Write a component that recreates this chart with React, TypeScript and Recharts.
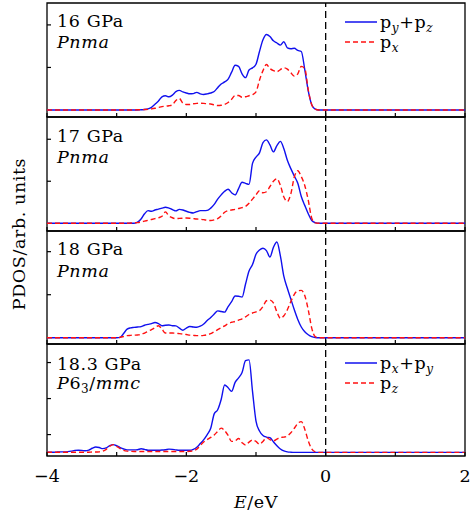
import React from "react";
import { LineChart, Line, XAxis, YAxis, ReferenceLine, ReferenceArea, Legend } from "recharts";

const FONT = '"DejaVu Serif", serif';
const FS = 17.5;
const LS = 0.6;
const BLUE = "#1010ee";
const RED = "#ff1010";

// energy grid (eV) for the three Pnma panels
const E_PNMA = [
  -4,
  -3.0, -2.95, -2.9, -2.85, -2.8, -2.75, -2.7, -2.65, -2.6, -2.55,
  -2.5, -2.45, -2.4, -2.35, -2.3, -2.25, -2.2, -2.15, -2.1, -2.05,
  -2.0, -1.95, -1.9, -1.85, -1.8, -1.75, -1.7, -1.65, -1.6, -1.55,
  -1.5, -1.45, -1.4, -1.35, -1.3, -1.25, -1.2, -1.15, -1.1, -1.05,
  -1.0, -0.95, -0.9, -0.85, -0.8, -0.75, -0.7, -0.65, -0.6, -0.55,
  -0.5, -0.45, -0.4, -0.35, -0.3, -0.25, -0.2, -0.15, -0.1,
  2,
];

// 16 GPa
const PYZ_16 = [
  0,
  0, 0, 0, 0, 0, 0, 0, 0.01, 0.02, 0.05,
  0.12, 0.27, 0.42, 0.62, 0.67, 0.62, 0.7, 0.86, 0.92, 0.85,
  0.8, 0.76, 0.77, 0.83, 0.76, 0.73, 0.76, 0.8, 0.87, 1.05,
  1.22, 1.32, 1.45, 1.78, 2.1, 2.05, 1.7, 1.52, 1.88, 1.98,
  2.15, 2.75, 3.3, 3.55, 3.45, 3.25, 3.15, 3.05, 3.21, 2.92,
  2.88, 2.9, 2.8, 2.75, 1.9, 0.9, 0.25, 0.04, 0,
  0,
];
const PX_16 = [
  0,
  0, 0, 0, 0, 0, 0, 0.01, 0.01, 0.02, 0.03,
  0.05, 0.08, 0.12, 0.16, 0.18, 0.2, 0.24, 0.45, 0.54, 0.32,
  0.26, 0.26, 0.29, 0.31, 0.32, 0.31, 0.29, 0.28, 0.24, 0.21,
  0.22, 0.26, 0.35, 0.5, 0.68, 0.68, 0.6, 0.62, 0.67, 0.72,
  0.85, 1.4, 1.85, 2.14, 1.95, 1.85, 1.8, 1.9, 1.98, 1.92,
  1.75, 1.59, 1.7, 2.05, 1.95, 0.95, 0.25, 0.04, 0,
  0,
];

// 17 GPa
const PYZ_17 = [
  0,
  0, 0, 0, 0, 0, 0, 0.05, 0.2, 0.45, 0.6,
  0.57, 0.63, 0.67, 0.72, 0.76, 0.72, 0.65, 0.59, 0.66, 0.63,
  0.57, 0.52, 0.49, 0.55, 0.6, 0.6, 0.61, 0.72, 0.9, 1.15,
  1.35, 1.52, 1.62, 1.45, 1.35, 1.65, 1.95, 1.9, 1.85, 2.85,
  3.15, 3.35, 3.84, 3.97, 3.73, 3.4, 3.7, 3.9, 3.55, 3.0,
  2.6, 2.25, 1.9, 1.27, 0.85, 0.45, 0.13, 0.03, 0,
  0,
];
const PX_17 = [
  0,
  0, 0, 0, 0, 0.01, 0.02, 0.03, 0.06, 0.1, 0.14,
  0.18, 0.22, 0.26, 0.33, 0.54, 0.35, 0.26, 0.22, 0.23, 0.24,
  0.25, 0.24, 0.22, 0.2, 0.19, 0.17, 0.14, 0.13, 0.16, 0.22,
  0.35, 0.52, 0.6, 0.63, 0.66, 0.7, 0.74, 0.8, 0.95, 1.15,
  1.35, 1.55, 1.45, 1.5, 1.75, 2.0, 2.12, 1.8, 1.25, 1.03,
  1.4, 2.2, 2.5, 2.22, 1.8, 1.1, 0.24, 0.02, 0,
  0,
];

// 18 GPa
const PYZ_18 = [
  0,
  0, 0.02, 0.2, 0.4, 0.46, 0.48, 0.5, 0.52, 0.58, 0.62,
  0.66, 0.71, 0.66, 0.56, 0.58, 0.59, 0.56, 0.55, 0.45, 0.35,
  0.45, 0.52, 0.5, 0.49, 0.54, 0.64, 0.8, 0.94, 1.1, 1.25,
  1.22, 1.19, 1.45, 1.68, 1.94, 1.93, 1.89, 2.5, 3.1, 3.4,
  3.88, 4.08, 4.16, 4.05, 3.75, 4.2, 4.45, 3.8, 2.85, 2.3,
  1.8, 1.3, 0.85, 0.5, 0.28, 0.14, 0.05, 0.01, 0,
  0,
];
const PX_18 = [
  0,
  0, 0.02, 0.06, 0.1, 0.11, 0.12, 0.13, 0.15, 0.22, 0.3,
  0.38, 0.47, 0.56, 0.4, 0.22, 0.22, 0.22, 0.21, 0.19, 0.17,
  0.15, 0.12, 0.11, 0.1, 0.1, 0.11, 0.14, 0.19, 0.28, 0.38,
  0.47, 0.55, 0.66, 0.72, 0.76, 0.82, 0.88, 0.97, 1.08, 1.15,
  1.2, 1.26, 1.45, 1.72, 1.75, 1.62, 1.2, 0.9, 1.02, 1.3,
  1.68, 2.02, 2.18, 2.2, 1.96, 1.3, 0.45, 0.05, 0,
  0,
];

// energy grid (eV) for the P6_3/mmc panel
const E_P63 = [
  -4,
  -3.9, -3.85, -3.8, -3.75, -3.7, -3.65, -3.6, -3.55, -3.5, -3.45,
  -3.4, -3.35, -3.3, -3.25, -3.2, -3.15, -3.1, -3.05, -3.0, -2.95,
  -2.9, -2.85, -2.8, -2.75, -2.7, -2.65, -2.6, -2.55, -2.5, -2.45,
  -2.4, -2.35, -2.3, -2.25, -2.2, -2.15, -2.1, -2.05, -2.0, -1.95,
  -1.9, -1.85, -1.8, -1.75, -1.7, -1.65, -1.6, -1.55, -1.5, -1.45,
  -1.4, -1.35, -1.3, -1.25, -1.2, -1.15, -1.1, -1.05, -1.0, -0.95,
  -0.9, -0.85, -0.8, -0.75, -0.7, -0.65, -0.6, -0.55, -0.5, -0.45,
  -0.4, -0.35, -0.3, -0.25, -0.2, -0.15, -0.1,
  2,
];

// 18.3 GPa
const PXY_183 = [
  0.02,
  0.02, 0.03, 0.04, 0.04, 0.05, 0.08, 0.12, 0.13, 0.12, 0.1,
  0.14, 0.24, 0.31, 0.28, 0.22, 0.26, 0.38, 0.44, 0.38, 0.28,
  0.2, 0.15, 0.15, 0.15, 0.16, 0.21, 0.18, 0.13, 0.13, 0.13,
  0.13, 0.14, 0.16, 0.19, 0.18, 0.15, 0.13, 0.13, 0.13, 0.13,
  0.18, 0.3, 0.5, 0.72, 1.0, 1.35, 2.15, 2.38, 2.95, 3.75,
  3.6, 3.4, 3.9, 4.15, 4.45, 5.1, 5.15, 3.4, 1.75, 1.2,
  0.95, 0.86, 0.83, 0.6, 0.38, 0.2, 0.09, 0.04, 0.02, 0.01,
  0.01, 0.01, 0.01, 0.01, 0.01, 0.01, 0.01,
  0.01,
];
const PZ_183 = [
  0.02,
  0.02, 0.02, 0.02, 0.02, 0.02, 0.02, 0.02, 0.02, 0.02, 0.02,
  0.02, 0.03, 0.03, 0.04, 0.08, 0.18, 0.35, 0.44, 0.35, 0.22,
  0.12, 0.08, 0.07, 0.06, 0.06, 0.06, 0.06, 0.06, 0.06, 0.06,
  0.06, 0.06, 0.06, 0.06, 0.06, 0.06, 0.06, 0.06, 0.06, 0.07,
  0.1, 0.19, 0.4, 0.59, 0.72, 0.84, 0.98, 1.18, 1.36, 1.22,
  0.95, 0.62, 0.65, 0.78, 0.55, 0.42, 0.58, 0.7, 0.62, 0.47,
  0.62, 0.83, 0.72, 0.65, 0.75, 0.84, 0.86, 0.92, 1.1, 1.35,
  1.62, 1.72, 1.3, 0.65, 0.2, 0.04, 0.01,
  0.01,
];

const X_TICKS = [-4, -3, -2, -1, 0, 1, 2];
const X_LABELED = [-4, -2, 0, 2];

// subscript tspan; `back` shifts the following text back onto the baseline
const Sub = ({ t, italic = true }: { t: string; italic?: boolean }) => (
  <tspan dy={4} fontSize={12} fontStyle={italic ? "italic" : "normal"}>{t}</tspan>
);

const PANELS = [
  {
    top: 3, bottom: 117, e: E_PNMA, blue: PYZ_16, red: PX_16,
    domain: [-0.33, 5.03], yTicks: [0, 1, 2, 3, 4], y1: 25, y2: 46,
    title: "16 GPa",
    phase: <tspan fontStyle="italic">Pnma</tspan>,
    legend: [
      <>p<Sub t="y" /><tspan dy={-4}>+p</tspan><Sub t="z" /></>,
      <>p<Sub t="x" /></>,
    ],
  },
  {
    top: 117, bottom: 231, e: E_PNMA, blue: PYZ_17, red: PX_17,
    domain: [-0.37, 5.06], yTicks: [0, 1, 2, 3, 4], y1: 25.5, y2: 46.5,
    title: "17 GPa",
    phase: <tspan fontStyle="italic">Pnma</tspan>,
    legend: null,
  },
  {
    top: 231, bottom: 344, e: E_PNMA, blue: PYZ_18, red: PX_18,
    domain: [-0.29, 4.96], yTicks: [0, 1, 2, 3, 4], y1: 25, y2: 46.5,
    title: "18 GPa",
    phase: <tspan fontStyle="italic">Pnma</tspan>,
    legend: null,
  },
  {
    top: 344, bottom: 456, e: E_P63, blue: PXY_183, red: PZ_183,
    domain: [-0.19, 6.03], yTicks: [0, 1, 2, 3, 4, 5], y1: 27, y2: 45.5,
    title: "18.3 GPa",
    phase: (
      <>
        <tspan fontStyle="italic">P</tspan>
        <tspan>6</tspan>
        <Sub t="3" italic={false} />
        <tspan dy={-4}>/</tspan>
        <tspan fontStyle="italic">mmc</tspan>
      </>
    ),
    legend: [
      <>p<Sub t="x" /><tspan dy={-4}>+p</tspan><Sub t="y" /></>,
      <>p<Sub t="z" /></>,
    ],
  },
];

const fmtTick = (v: number) => String(v).replace("-", "\u2212");

// inward tick line on the bottom axis, plus the label below it in the last panel
function XTick(props: any) {
  const { x, y, payload, showLabel } = props;
  return (
    <g>
      <line x1={x} x2={x} y1={y} y2={y - 4} stroke="#000" strokeWidth={1.2} />
      {showLabel && X_LABELED.includes(payload.value) && (
        <text x={x} y={y + 26} textAnchor="middle" fontFamily={FONT} fontSize={FS} fill="#000">
          {fmtTick(payload.value)}
        </text>
      )}
    </g>
  );
}

function YTick(props: any) {
  const { x, y } = props;
  return <line x1={x} x2={x + 4} y1={y} y2={y} stroke="#000" strokeWidth={1.2} />;
}

function LegendBox({ labels }: { labels: React.ReactNode[] }) {
  return (
    <svg width={125} height={46} style={{ display: "block" }}>
      {labels.map((lab, i) => (
        <g key={i}>
          <line
            x1={5} x2={37} y1={12 + i * 20} y2={12 + i * 20}
            stroke={i === 0 ? BLUE : RED}
            strokeWidth={1.5}
            strokeDasharray={i === 0 ? undefined : "5 3"}
          />
          <text x={40} y={18 + i * 20} fontFamily={FONT} fontSize={FS} letterSpacing={LS} fill="#000">
            {lab}
          </text>
        </g>
      ))}
    </svg>
  );
}

function Panel({ p, last }: { p: any; last: boolean }) {
  const rows = p.e.map((e: number, i: number) => ({ e, blue: p.blue[i], red: p.red[i] }));
  const axisH = last ? 517 - p.bottom : 1;
  const height = 1 + (p.bottom - p.top) + axisH;
  return (
    <div style={{ position: "absolute", left: 0, top: p.top - 1 }}>
      <LineChart width={470} height={height} data={rows} margin={{ top: 1, right: 5, bottom: 0, left: 46 }}>
        <XAxis
          dataKey="e"
          type="number"
          domain={[-4, 2]}
          ticks={X_TICKS}
          interval={0}
          allowDataOverflow
          height={axisH}
          axisLine={false}
          tickLine={false}
          tickSize={0}
          tickMargin={0}
          tick={<XTick showLabel={last} />}
        />
        <YAxis
          type="number"
          domain={p.domain}
          ticks={p.yTicks}
          allowDataOverflow
          width={1}
          axisLine={false}
          tickLine={false}
          tickSize={0}
          tickMargin={0}
          tick={<YTick />}
        />
        <ReferenceArea
          x1={-4} x2={2} y1={p.domain[0]} y2={p.domain[1]}
          fill="none" fillOpacity={0} stroke="#000" strokeWidth={1.3} ifOverflow="visible"
        />
        <ReferenceLine x={0} stroke="#000" strokeWidth={1.3} strokeDasharray="7 4" />
        <Line type="monotone" dataKey="blue" stroke={BLUE} strokeWidth={1.4} dot={false} isAnimationActive={false} />
        <Line type="monotone" dataKey="red" stroke={RED} strokeWidth={1.4} strokeDasharray="5 3" dot={false} isAnimationActive={false} />
        {p.legend && (
          <Legend
            layout="vertical"
            align="center"
            verticalAlign="middle"
            wrapperStyle={{ left: 340, top: 8, width: 125, height: 46 }}
            content={() => <LegendBox labels={p.legend} />}
          />
        )}
        <text x={57} y={p.y1} fontFamily={FONT} fontSize={FS} letterSpacing={LS} fill="#000">{p.title}</text>
        <text x={57} y={p.y2} fontFamily={FONT} fontSize={FS} letterSpacing={LS} fill="#000">{p.phase}</text>
        {last && (
          <text x={256} y={165} textAnchor="middle" fontFamily={FONT} fontSize={FS} letterSpacing={LS} fill="#000">
            <tspan fontStyle="italic">E</tspan>/eV
          </text>
        )}
      </LineChart>
    </div>
  );
}

export default function App() {
  return (
    <div style={{ position: "absolute", left: 0, top: 0, width: 470, height: 517, background: "#fff" }}>
      {PANELS.map((p, i) => (
        <Panel key={i} p={p} last={i === PANELS.length - 1} />
      ))}
      <svg width={40} height={517} style={{ position: "absolute", left: 0, top: 0 }}>
        <text
          transform="rotate(-90)"
          x={-234}
          y={25}
          textAnchor="middle"
          fontFamily={FONT}
          fontSize={FS}
          letterSpacing={LS}
          fill="#000"
        >
          PDOS/arb. units
        </text>
      </svg>
    </div>
  );
}
